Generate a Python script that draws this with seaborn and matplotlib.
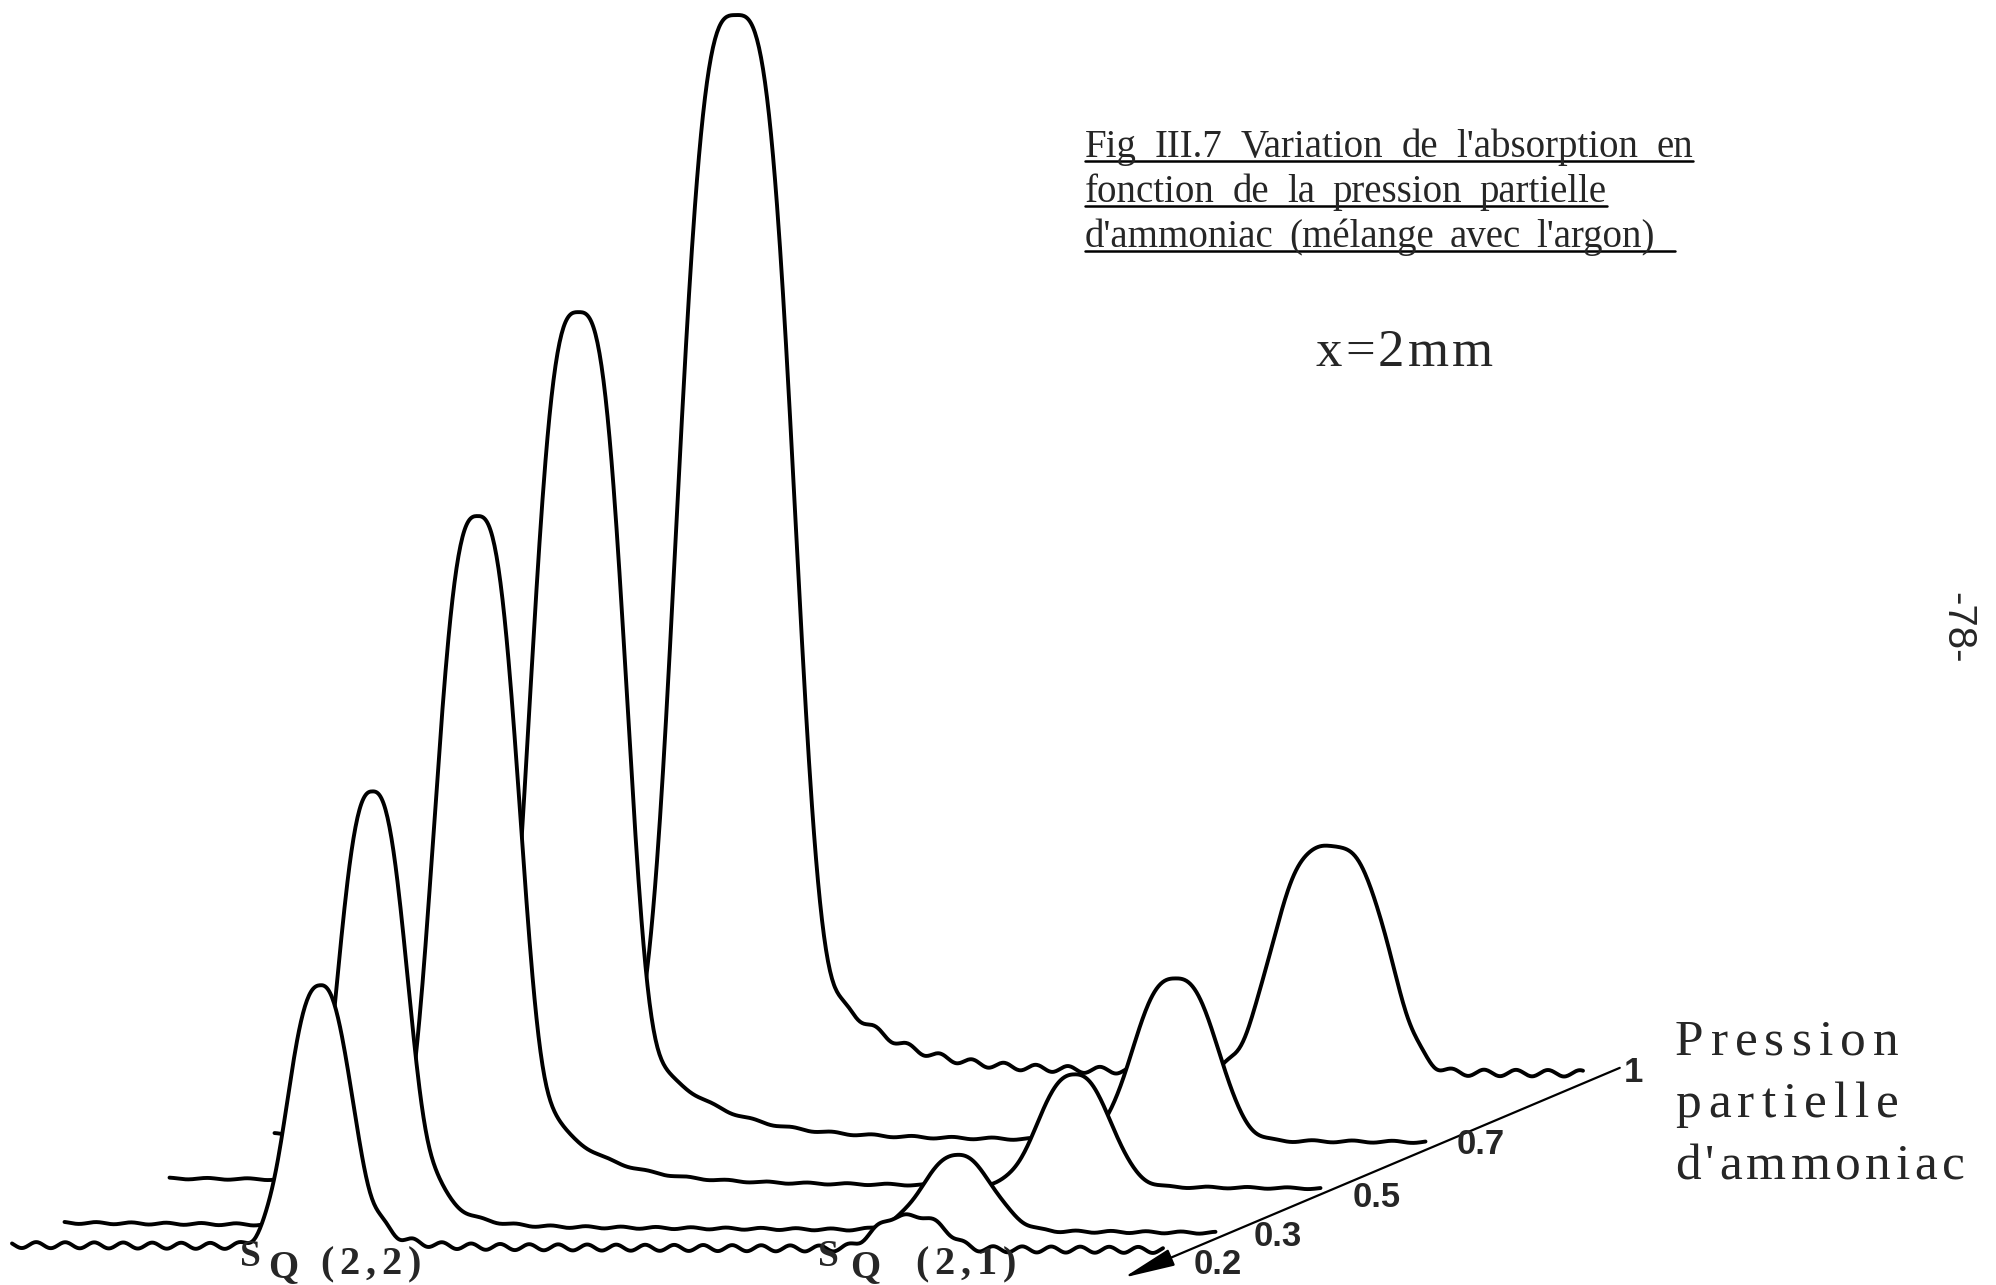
import numpy as np
import pandas as pd
import matplotlib
matplotlib.use("Agg")
import matplotlib.pyplot as plt
import seaborn as sns

# ---------------- data ----------------
pressures = [0.2, 0.3, 0.5, 0.7, 1.0]
pressure_labels = ["0.2", "0.3", "0.5", "0.7", "1"]

# SQ(2,2) line (channel units, absorbance units)
q22_center = [320, 320, 320, 316, 316]
q22_height = [261, 434, 665, 824, 1054]
q22_fwhm = [70, 76, 90, 100, 121]
q22_shape = [2.5, 2.6, 2.8, 3.0, 3.2]
q22_tail = [0.05, 0.06, 0.073, 0.067, 0.053]
q22_tail_len = [25, 27, 55, 65, 58]

# SQ(2,1) line
q21_center = [910, 905, 917, 913, 910]
q21_height = [33, 76, 112, 162, 226]
q21_fwhm = [78, 79, 80, 92, 123]
q21_shape = [3.0, 2.2, 2.4, 2.6, 3.0]

# baseline fringes and drift
fringe_amp = [3.0, 1.0, 0.8, 1.0, 3.2]
fringe_period = [29, 35, 40, 40, 32]
baseline_drift = [-5, -10, -10, -8, -6]

channel_start, channel_end = 12, 1163
# perspective offset of one unit of partial pressure
shift_per_pressure = (525, 222)

title_lines = ["Fig III.7 Variation de l'absorption en",
               "fonction de la pression partielle",
               "d'ammoniac (mélange avec l'argon)"]
condition_text = "x=2mm"
axis_title = ["Pression", "partielle", "d'ammoniac"]
peak_labels = [("S", "Q", "(2,2)"), ("S", "Q", "(2,1)")]
page_number = "-78-"

# ---------------- build spectra ----------------
def line_profile(x, c, h, w, n):
    u = x - c
    return h * np.exp(-np.log(2) * np.abs(2 * u / w) ** n)

def right_tail(x, c, h, w, a, tau):
    u = x - c
    gate = 1.0 / (1.0 + np.exp(-np.clip((u - 0.8 * w) / (0.08 * w), -60, 60)))
    t = h * a * np.exp(-np.clip((u - w) / tau, -60, 60)) * gate
    return np.where(u > 0, t, 0.0)

xs = np.arange(channel_start, channel_end + 0.5, 1.0)
frames = []
for i, p in enumerate(pressures):
    main_line = line_profile(xs, q22_center[i], q22_height[i], q22_fwhm[i], q22_shape[i])
    second_line = line_profile(xs, q21_center[i], q21_height[i], q21_fwhm[i], q21_shape[i])
    fringe = (fringe_amp[i] * np.sin(2 * np.pi * xs / fringe_period[i])
              / (1 + (main_line + second_line) / 40))
    y = (main_line + second_line
         + right_tail(xs, q22_center[i], q22_height[i], q22_fwhm[i], q22_tail[i], q22_tail_len[i])
         + fringe
         + baseline_drift[i] * (xs - channel_start) / (channel_end - channel_start))
    dx = shift_per_pressure[0] * (p - 0.2)
    dy = shift_per_pressure[1] * (p - 0.2)
    frames.append(pd.DataFrame({"channel": xs + dx, "absorbance": y + dy, "pressure": p}))
df = pd.concat(frames, ignore_index=True)

# ---------------- figure ----------------
sns.set_theme(style="white")
plt.rcParams["font.family"] = ["Liberation Serif", "DejaVu Serif"]

W, H = 1996, 1285
fig = plt.figure(figsize=(W / 100, H / 100), dpi=100)
fig.patch.set_facecolor("white")
ax = fig.add_axes([0, 0, 1, 1])
ax.set_xlim(0, W)
ax.set_ylim(-40, 1245)
ax.axis("off")

# back to front, white fill for hidden-line removal
for k, p in enumerate(sorted(pressures, reverse=True)):
    sub = df[df["pressure"] == p]
    z = 10 + 2 * k
    ax.fill_between(sub["channel"], sub["absorbance"], -200, color="white", lw=0, zorder=z)
    sns.lineplot(data=sub, x="channel", y="absorbance", ax=ax, color="black", lw=2.8,
                 estimator=None, sort=False, legend=False, zorder=z + 1)

# pressure axis (oblique)
def axis_point(p):
    return (channel_end + shift_per_pressure[0] * (p - 0.2),
            -16 + shift_per_pressure[1] * (p - 0.2))

ax.annotate("", xy=axis_point(0.125), xytext=axis_point(1.07),
            arrowprops=dict(arrowstyle="-|>,head_length=1.0,head_width=0.17",
                            color="black", lw=1.6, mutation_scale=32, shrinkA=0, shrinkB=0),
            zorder=100)
label_nudge = [(55, -4), (62, 2), (56, -3), (55, 5), (50, 11)]
for p, lab, (nx, ny) in zip(pressures, pressure_labels, label_nudge):
    px, py = axis_point(p)
    ax.text(px + nx, py + ny, lab, fontsize=25, fontweight="bold", family="Liberation Sans",
            ha="center", va="center", zorder=101)

# ---------------- text helpers (pixel positions) ----------------
renderer = fig.canvas.get_renderer()

def fx(px):
    return px / W

def fy(py):
    return 1 - py / H

def spaced(s, x_px, y_px, size, spacing, **kw):
    x = x_px
    for ch in s:
        if ch == " ":
            x += size * 0.25 * 100 / 72 + spacing
            continue
        t = fig.text(fx(x), fy(y_px), ch, fontsize=size, ha="left", va="baseline", **kw)
        x += t.get_window_extent(renderer).width + spacing
    return x

def justified(s, x0, x1, y_px, size, **kw):
    words = s.split()
    texts, widths = [], []
    for wd in words:
        t = fig.text(fx(x0), fy(y_px), wd, fontsize=size, ha="left", va="baseline", **kw)
        texts.append(t)
        widths.append(t.get_window_extent(renderer).width)
    gap = (x1 - x0 - sum(widths)) / max(len(words) - 1, 1)
    x = x0
    for t, w in zip(texts, widths):
        t.set_x(fx(x))
        x += w + gap

# title block
title_right = [1693, 1607, 1655]
title_base = [157, 202, 247]
underline_right = [1693, 1607, 1675]
for line, xr, yb, ur in zip(title_lines, title_right, title_base, underline_right):
    justified(line, 1085, xr, yb, 28)
    fig.add_artist(plt.Line2D([fx(1085), fx(ur)], [fy(yb + 4), fy(yb + 4)],
                              transform=fig.transFigure, color="black", lw=1.8))

# condition
spaced(condition_text, 1316, 366, 38, 3)

# axis title
for line, yb, sp in zip(axis_title, [1055, 1117, 1179], [7, 7, 4.5]):
    spaced(line, 1675, yb, 37, sp)

# peak labels
for (s, q, jj), (xs_, xq, xj) in zip(peak_labels, [(240, 268, 320), (818, 850, 915)]):
    spaced(s, xs_, 1266, 27, 0, fontweight="bold")
    spaced(q, xq, 1277, 28, 0, fontweight="bold")
    spaced(jj, xj, 1274, 29, 6, fontweight="bold")

# page number
fig.text(fx(1957), fy(628), page_number, rotation=270, ha="center", va="center",
         fontsize=29, family="Liberation Sans")

fig.savefig("out.png", dpi=100, facecolor="white")
